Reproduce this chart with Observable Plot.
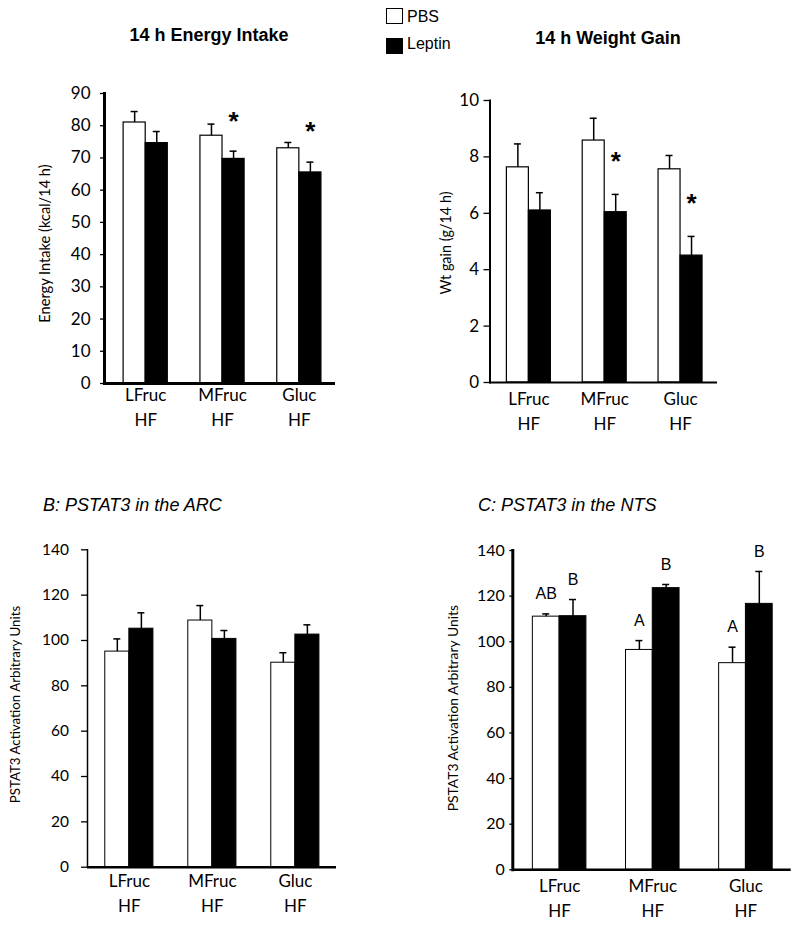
<!DOCTYPE html>
<html>
<head>
<meta charset="utf-8">
<script src="https://cdn.jsdelivr.net/npm/d3@7"></script>
<script src="https://cdn.jsdelivr.net/npm/@observablehq/plot@0.6"></script>
<style>
  html, body { margin: 0; padding: 0; background: #fff; }
  #wrap { position: relative; width: 800px; height: 925px; overflow: hidden; font-family: "Liberation Sans", Arial, sans-serif; color: #000; }
  .panel { position: absolute; }
  .title { position: absolute; font-size: 18px; line-height: 18px; white-space: nowrap; }
  .bold { font-weight: bold; }
  .ital { font-style: italic; }
  .center { transform: translateX(-50%); }
  .lgbox { position: absolute; box-sizing: border-box; border: 1.5px solid #000; }
  .lgtext { position: absolute; font-size: 16px; line-height: 16px; white-space: nowrap; }
</style>
</head>
<body>
<div id="wrap">
  <div class="title bold center" style="left:209px; top:26px;">14 h Energy Intake</div>
  <div class="title bold center" style="left:608px; top:29px;">14 h Weight Gain</div>
  <div class="title ital" style="left:43px; top:496px;">B: PSTAT3 in the ARC</div>
  <div class="title ital" style="left:478px; top:496px;">C: PSTAT3 in the NTS</div>
  <div class="lgbox" style="left:386px; top:8px; width:17px; height:16px; background:#fff;"></div>
  <div class="lgtext" id="lgPBS" style="left:407px; top:9px;"></div>
  <div class="lgbox" style="left:386px; top:38px; width:17px; height:16px; background:#000;"></div>
  <div class="lgtext" id="lgLep" style="left:407px; top:36px;"></div>
  <div class="panel" id="pA" style="left:0px; top:80px;"></div>
  <div class="panel" id="pW" style="left:400px; top:80px;"></div>
  <div class="panel" id="pB" style="left:0px; top:480px;"></div>
  <div class="panel" id="pC" style="left:400px; top:480px;"></div>
</div>
<script>
// ---------- data ----------
const groups = ["LFruc", "MFruc", "Gluc"];
const groupSub = "HF";
const treatments = ["PBS", "Leptin"];

// 14 h Energy Intake (kcal/14 h): mean and SEM
const energyPBS = [81.0, 76.9, 73.0];
const energyPBSSem = [3.4, 3.6, 1.8];
const energyLeptin = [74.6, 69.7, 65.5];
const energyLeptinSem = [3.6, 2.4, 3.2];
const energyPBSNote = ["", "", ""];
const energyLeptinNote = ["", "*", "*"];
const energyTicks = [0, 10, 20, 30, 40, 50, 60, 70, 80, 90];

// 14 h Weight Gain (g/14 h)
const weightPBS = [7.63, 8.58, 7.56];
const weightPBSSem = [0.83, 0.79, 0.49];
const weightLeptin = [6.10, 6.04, 4.50];
const weightLeptinSem = [0.63, 0.63, 0.68];
const weightPBSNote = ["", "", ""];
const weightLeptinNote = ["", "*", "*"];
const weightTicks = [0, 2, 4, 6, 8, 10];

// B: PSTAT3 in the ARC (arbitrary units)
const arcPBS = [95.1, 108.8, 90.2];
const arcPBSSem = [5.6, 6.6, 4.4];
const arcLeptin = [105.2, 100.7, 102.6];
const arcLeptinSem = [7.0, 3.7, 4.3];
const arcPBSNote = ["", "", ""];
const arcLeptinNote = ["", "", ""];
const pstatTicks = [0, 20, 40, 60, 80, 100, 120, 140];

// C: PSTAT3 in the NTS (arbitrary units)
const ntsPBS = [111.0, 96.4, 90.6];
const ntsPBSSem = [1.2, 4.1, 7.0];
const ntsLeptin = [111.2, 123.5, 116.6];
const ntsLeptinSem = [7.3, 1.6, 14.2];
const ntsPBSNote = ["AB", "A", "A"];
const ntsLeptinNote = ["B", "B", "B"];

document.getElementById("lgPBS").textContent = treatments[0];
document.getElementById("lgLep").textContent = treatments[1];

// ---------- panel builder ----------
function barPanel(c) {
  const n = groups.length;
  const L = c.width - c.marginLeft - c.marginRight;
  const step = L / (n - c.pi + 2 * c.po);
  const bw = step * (1 - c.pi);
  const half = bw / 2, q = bw / 4, cap = 7;
  const rowsP = groups.map((g, i) => ({group: g, treatment: treatments[0], value: c.pbs[i], top: c.pbs[i] + c.pbsSem[i], note: c.pbsNote[i]}));
  const rowsL = groups.map((g, i) => ({group: g, treatment: treatments[1], value: c.lep[i], top: c.lep[i] + c.lepSem[i], note: c.lepNote[i]}));
  return Plot.plot({
    width: c.width, height: c.height,
    marginLeft: c.marginLeft, marginRight: c.marginRight, marginTop: c.marginTop, marginBottom: c.marginBottom,
    style: {fontFamily: "Lato, sans-serif", fontSize: "17px", background: "transparent", overflow: "visible", color: "#000"},
    x: {type: "band", domain: groups, paddingInner: c.pi, paddingOuter: c.po, align: c.align, round: false, axis: null},
    y: {domain: [0, c.yMax]},
    marks: [
      Plot.barY(rowsP, {x: "group", y: "value", fill: "white", stroke: "#000", strokeWidth: c.barStroke, insetRight: half}),
      Plot.barY(rowsL, {x: "group", y: "value", fill: "#000", stroke: "#000", strokeWidth: c.barStroke, insetLeft: half}),
      Plot.ruleX(rowsP, {x: "group", y1: "value", y2: "top", dx: -q, stroke: "#000", strokeWidth: 1.5}),
      Plot.tickY(rowsP, {x: "group", y: "top", insetLeft: q - cap / 2, insetRight: bw - q - cap / 2, stroke: "#000", strokeWidth: 1.5}),
      Plot.ruleX(rowsL, {x: "group", y1: "value", y2: "top", dx: q, stroke: "#000", strokeWidth: 1.5}),
      Plot.tickY(rowsL, {x: "group", y: "top", insetLeft: 3 * q - cap / 2, insetRight: q - cap / 2, stroke: "#000", strokeWidth: 1.5}),
      Plot.text(rowsP.filter(d => d.note), {x: "group", y: "top", text: "note", dx: -q, dy: c.noteDyP, fontSize: c.noteSize, fontFamily: "Liberation Sans, Arial, sans-serif", fontWeight: c.noteWeight, fill: "#000"}),
      Plot.text(rowsL.filter(d => d.note), {x: "group", y: "top", text: "note", dx: q, dy: c.noteDyL, fontSize: c.noteSize, fontFamily: "Liberation Sans, Arial, sans-serif", fontWeight: c.noteWeight, fill: "#000"}),
      Plot.ruleY([0], {stroke: "#000", strokeWidth: c.xLine}),
      Plot.frame({anchor: "left", stroke: "#000", strokeWidth: c.yLine}),
      Plot.axisY({ticks: c.ticks, tickSize: c.tickSize, tickPadding: c.tickPadding, fontSize: c.tickFont, label: null, stroke: "#000", strokeWidth: 1.3, tickFormat: d => String(d)}),
      Plot.text([c.yLabel], {frameAnchor: "left", textAnchor: "middle", lineAnchor: "middle", text: d => d, rotate: -90, dx: c.labelDx, dy: c.labelDy, fontSize: c.labelFont, fill: "#000"}),
      Plot.text(groups, {x: d => d, text: d => d + "\n" + groupSub, frameAnchor: "bottom", textAnchor: "middle", lineAnchor: "top", dy: c.catDy, lineHeight: 1.47, fontSize: 17, fill: "#000"})
    ]
  });
}

const panels = [
  {id: "pA", width: 400, height: 360, marginLeft: 104, marginRight: 65, marginTop: 13, marginBottom: 57,
   pi: 0.425, po: 0.216, align: 0.576,
   pbs: energyPBS, pbsSem: energyPBSSem, lep: energyLeptin, lepSem: energyLeptinSem,
   pbsNote: energyPBSNote, lepNote: energyLeptinNote, noteSize: 26, noteWeight: "bold", noteDyP: -30, noteDyL: -30,
   yMax: 90, ticks: energyTicks, tickSize: 4, tickPadding: 10, tickFont: 17,
   yLabel: "Energy Intake (kcal/14 h)", labelDx: -59, labelDy: 5, labelFont: 14.6,
   catDy: 0, barStroke: 1.2, xLine: 3, yLine: 3},
  {id: "pW", width: 400, height: 360, marginLeft: 89.5, marginRight: 83, marginTop: 20, marginBottom: 58,
   pi: 0.42, po: 0.21, align: 0.53,
   pbs: weightPBS, pbsSem: weightPBSSem, lep: weightLeptin, lepSem: weightLeptinSem,
   pbsNote: weightPBSNote, lepNote: weightLeptinNote, noteSize: 26, noteWeight: "bold", noteDyP: -33, noteDyL: -33,
   yMax: 10, ticks: weightTicks, tickSize: 6, tickPadding: 5, tickFont: 17,
   yLabel: "Wt gain (g/14 h)", labelDx: -44, labelDy: 1.5, labelFont: 14.4,
   catDy: 4.5, barStroke: 1.2, xLine: 2, yLine: 2},
  {id: "pB", width: 400, height: 445, marginLeft: 87, marginRight: 64, marginTop: 69.3, marginBottom: 58.3,
   pi: 0.42, po: 0.21, align: 0.51,
   pbs: arcPBS, pbsSem: arcPBSSem, lep: arcLeptin, lepSem: arcLeptinSem,
   pbsNote: arcPBSNote, lepNote: arcLeptinNote, noteSize: 16, noteWeight: "normal", noteDyP: -20, noteDyL: -20,
   yMax: 140, ticks: pstatTicks, tickSize: 6, tickPadding: 12.5, tickFont: 15.5,
   yLabel: "PSTAT3 Activation Arbitrary Units", labelDx: -72, labelDy: -4, labelFont: 13.3,
   catDy: 2, barStroke: 1, xLine: 2.5, yLine: 1.5},
  {id: "pC", width: 400, height: 445, marginLeft: 112.3, marginRight: 9.3, marginTop: 70, marginBottom: 55.7,
   pi: 0.425, po: 0.207, align: 0.52,
   pbs: ntsPBS, pbsSem: ntsPBSSem, lep: ntsLeptin, lepSem: ntsLeptinSem,
   pbsNote: ntsPBSNote, lepNote: ntsLeptinNote, noteSize: 16, noteWeight: "normal", noteDyP: -20, noteDyL: -20,
   yMax: 140, ticks: pstatTicks, tickSize: 3, tickPadding: 5, tickFont: 16,
   yLabel: "PSTAT3 Activation Arbitrary Units", labelDx: -59, labelDy: -2, labelFont: 13.9,
   catDy: 4, barStroke: 1, xLine: 2.5, yLine: 3}
];

for (const p of panels) {
  document.getElementById(p.id).appendChild(barPanel(p));
}
</script>
</body>
</html>
